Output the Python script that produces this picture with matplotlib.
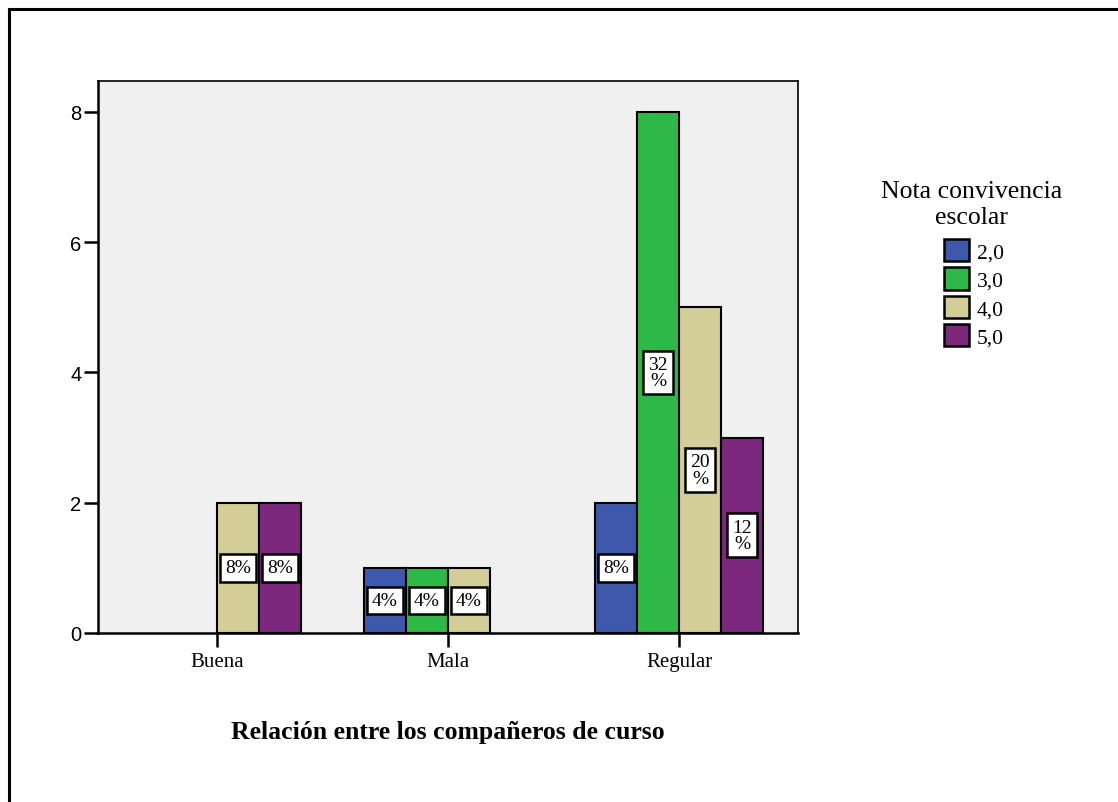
import numpy as np
import matplotlib.pyplot as plt
from matplotlib.lines import Line2D

# Data (counts)
categories = ['Buena', 'Mala', 'Regular']
groups = ['2,0', '3,0', '4,0', '5,0']
counts_20 = [0, 1, 2]
counts_30 = [0, 1, 8]
counts_40 = [2, 1, 5]
counts_50 = [2, 0, 3]
colors = ['#3E58AC', '#2EB848', '#D3CE97', '#7C287D']

series = [counts_20, counts_30, counts_40, counts_50]
total = sum(sum(s) for s in series)

serif = ['Liberation Serif', 'DejaVu Serif']
sans = ['Liberation Sans', 'DejaVu Sans']

fig = plt.figure(figsize=(11.18, 8.03), dpi=100)
ax = fig.add_axes([0.0877, 0.2105, 0.6261, 0.6874])
ax.set_facecolor('#F0F0F0')

x = np.arange(len(categories))
w = 42 / 231
for j, (vals, col, name) in enumerate(zip(series, colors, groups)):
    vals = np.array(vals)
    xpos = x + (j - 1.5) * w
    keep = vals > 0  # empty cells are not drawn
    ax.bar(xpos[keep], vals[keep], width=w, color=col, edgecolor='black',
           linewidth=1.5, label=name, zorder=2)
    for xi, v in zip(xpos[keep], vals[keep]):
        p = int(round(v / total * 100))
        txt = f'{p}%' if p < 10 else f'{p}\n%'
        ax.text(xi, v / 2, txt, ha='center', va='center', fontsize=14,
                family=serif, linespacing=0.95, zorder=3,
                bbox=dict(boxstyle='square,pad=0.27', facecolor='white',
                          edgecolor='black', linewidth=1.8))

ax.set_xlim(-0.515, 2.515)
ax.set_ylim(0, 8.476)
ax.set_yticks([0, 2, 4, 6, 8])
ax.set_xticks(x)
ax.set_xticklabels(categories, family=serif, fontsize=15)
for lab in ax.get_yticklabels():
    lab.set_family(sans)
    lab.set_fontsize(14.5)
ax.tick_params(axis='y', length=10, width=1.8, pad=2)
ax.tick_params(axis='x', length=10, width=1.8, pad=4)
for sp in ax.spines.values():
    sp.set_linewidth(1.2)
ax.spines['bottom'].set_linewidth(1.8)
ax.spines['left'].set_linewidth(1.8)

ax.set_xlabel('Relación entre los compañeros de curso', family=serif,
              fontsize=18.5, fontweight='bold', labelpad=35)

# legend: title drawn as separate text so the gap to the swatches matches
fig.text(0.8694, 0.745, 'Nota convivencia\nescolar', ha='center', va='center',
         family=serif, fontsize=18.5, linespacing=1.25)
leg = fig.legend(loc='upper left', bbox_to_anchor=(0.8444, 0.7012),
                 frameon=False, prop={'family': serif, 'size': 15.5},
                 handlelength=1.16, handleheight=1.22, labelspacing=0.23,
                 handletextpad=0.37, borderaxespad=0, borderpad=0)
for h in leg.legend_handles:
    h.set_linewidth(1.8)

# outer frame (only top and left edges visible in the reference)
fig.add_artist(Line2D([0.008, 0.008], [0, 0.9875], transform=fig.transFigure,
                      color='black', linewidth=2.2))
fig.add_artist(Line2D([0.008, 1.0], [0.9875, 0.9875], transform=fig.transFigure,
                      color='black', linewidth=2.2))

fig.savefig('out.png', dpi=100)
